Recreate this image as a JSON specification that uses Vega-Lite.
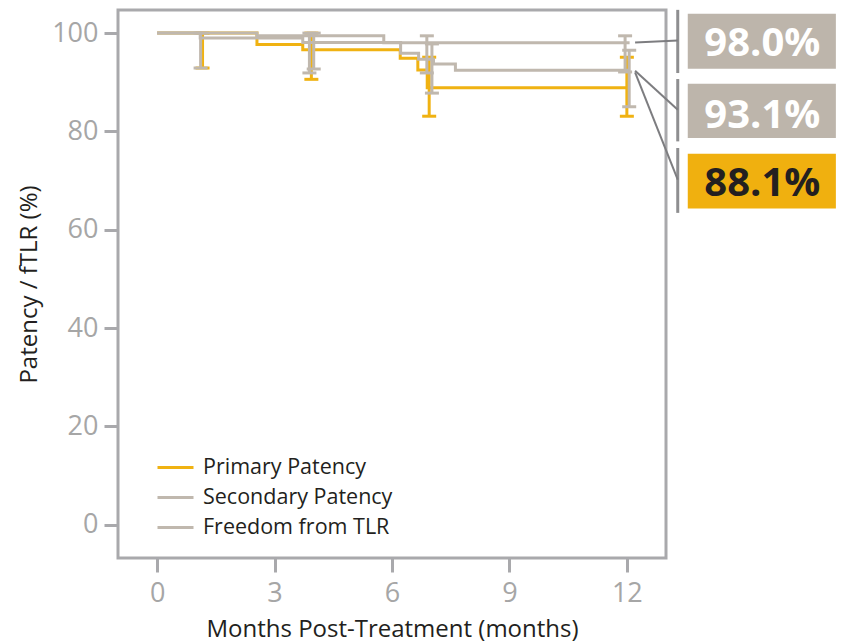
{
  "$schema": "https://vega.github.io/schema/vega-lite/v6.json",
  "width": 548,
  "height": 548,
  "autosize": "none",
  "padding": {"left": 118, "top": 10, "right": 176, "bottom": 84},
  "background": "white",
  "config": {
    "view": {"stroke": "#A9A9AC", "strokeWidth": 3},
    "font": "Open Sans",
    "axis": {
      "grid": false,
      "domain": false,
      "tickColor": "#A9A9AC",
      "tickWidth": 3,
      "tickSize": 14,
      "labelColor": "#A6A6A6",
      "labelFontSize": 27,
      "labelFont": "Open Sans",
      "titleFont": "Open Sans",
      "titleFontSize": 24,
      "titleFontWeight": "normal",
      "titleColor": "#231F20"
    }
  },
  "datasets": {
    "curves": [
      {"series": "Primary Patency", "month": 0, "pct": 100},
      {"series": "Primary Patency", "month": 2.55, "pct": 97.7},
      {"series": "Primary Patency", "month": 3.72, "pct": 96.6},
      {"series": "Primary Patency", "month": 6.21, "pct": 94.9},
      {"series": "Primary Patency", "month": 6.66, "pct": 92.5},
      {"series": "Primary Patency", "month": 6.9, "pct": 88.9},
      {"series": "Primary Patency", "month": 12.05, "pct": 88.9},
      {"series": "Secondary Patency", "month": 0, "pct": 100},
      {"series": "Secondary Patency", "month": 2.55, "pct": 99.45},
      {"series": "Secondary Patency", "month": 5.79, "pct": 98.05},
      {"series": "Secondary Patency", "month": 12.07, "pct": 98.05},
      {"series": "Freedom from TLR", "month": 0, "pct": 100},
      {"series": "Freedom from TLR", "month": 1.1, "pct": 99.0},
      {"series": "Freedom from TLR", "month": 3.72, "pct": 98.1},
      {"series": "Freedom from TLR", "month": 6.22, "pct": 95.9},
      {"series": "Freedom from TLR", "month": 6.68, "pct": 94.7},
      {"series": "Freedom from TLR", "month": 7.06, "pct": 93.7},
      {"series": "Freedom from TLR", "month": 7.62, "pct": 92.45},
      {"series": "Freedom from TLR", "month": 12.08, "pct": 92.45}
    ],
    "ci": [
      {"series": "Primary Patency", "month": 1.16, "lo": 92.9, "hi": 100},
      {"series": "Primary Patency", "month": 3.94, "lo": 90.6, "hi": 100},
      {"series": "Primary Patency", "month": 6.95, "lo": 83.1, "hi": 95.1},
      {"series": "Primary Patency", "month": 12.0, "lo": 83.1, "hi": 95.1},
      {"series": "Secondary Patency", "month": 3.89, "lo": 91.9, "hi": 100},
      {"series": "Secondary Patency", "month": 6.89, "lo": 91.9, "hi": 99.45},
      {"series": "Secondary Patency", "month": 11.955, "lo": 92.1, "hi": 99.45},
      {"series": "Freedom from TLR", "month": 1.11, "lo": 92.9, "hi": 100},
      {"series": "Freedom from TLR", "month": 4.0, "lo": 92.7, "hi": 100},
      {"series": "Freedom from TLR", "month": 7.02, "lo": 87.8, "hi": 97.8},
      {"series": "Freedom from TLR", "month": 12.06, "lo": 85.0, "hi": 96.5}
    ],
    "labels": [
      {"series": "Secondary Patency", "text": "98.0%", "x1": 13.556, "x2": 17.34, "y1": 92.75, "y2": 103.92, "tx": 15.46, "ty": 95.25},
      {"series": "Freedom from TLR", "text": "93.1%", "x1": 13.556, "x2": 17.34, "y1": 78.68, "y2": 89.7, "tx": 15.46, "ty": 80.71},
      {"series": "Primary Patency", "text": "88.1%", "x1": 13.556, "x2": 17.34, "y1": 64.32, "y2": 75.49, "tx": 15.46, "ty": 66.82}
    ],
    "separators": [
      {"m": 13.3, "a": 91.88, "b": 104.73},
      {"m": 13.3, "a": 77.98, "b": 90.66},
      {"m": 13.3, "a": 63.44, "b": 76.64}
    ],
    "pointers": [
      {"m1": 12.21, "v1": 98.1, "m2": 13.3, "v2": 98.5},
      {"m1": 12.21, "v1": 92.35, "m2": 13.3, "v2": 84.4},
      {"m1": 12.21, "v1": 92.0, "m2": 13.3, "v2": 70.2}
    ]
  },
  "layer": [
    {
      "data": {"name": "curves"},
      "transform": [{"filter": "datum.series === 'Primary Patency'"}],
      "mark": {"type": "line", "interpolate": "step-after", "strokeWidth": 3},
      "encoding": {
        "x": {
          "field": "month", "type": "quantitative",
          "scale": {"domain": [-1, 13], "nice": false, "zero": false},
          "axis": {"values": [0, 3, 6, 9, 12], "title": "Months Post-Treatment (months)", "labelPadding": 8, "titleY": 78, "titleBaseline": "alphabetic"}
        },
        "y": {
          "field": "pct", "type": "quantitative",
          "scale": {"domain": [-6.75, 104.7], "nice": false, "zero": false},
          "axis": {"values": [0, 20, 40, 60, 80, 100], "title": "Patency / fTLR (%)", "labelPadding": 6, "titleX": -77, "titleY": 274}
        },
        "color": {
          "field": "series", "type": "nominal",
          "scale": {"domain": ["Primary Patency", "Secondary Patency", "Freedom from TLR"], "range": ["#F0B212", "#C0B8AE", "#C0B8AE"]},
          "legend": {
            "title": null,
            "orient": "none",
            "legendX": 38,
            "legendY": 438,
            "padding": 0,
            "symbolType": "stroke",
            "symbolSize": 1296,
            "symbolStrokeWidth": 3,
            "labelFontSize": 21.5,
            "labelColor": "#231F20",
            "labelFont": "Open Sans",
            "labelOffset": 8,
            "labelLimit": 0,
            "rowPadding": -11.5
          }
        }
      }
    },
    {
      "data": {"name": "ci"},
      "transform": [{"filter": "datum.series === 'Primary Patency'"}],
      "mark": {"type": "rule", "strokeWidth": 3},
      "encoding": {
        "x": {"field": "month", "type": "quantitative"},
        "y": {"field": "lo", "type": "quantitative"},
        "y2": {"field": "hi"},
        "color": {"field": "series", "type": "nominal"}
      }
    },
    {
      "data": {"name": "ci"},
      "transform": [{"filter": "datum.series === 'Primary Patency'"}, {"fold": ["lo", "hi"], "as": ["end", "bound"]}],
      "mark": {"type": "tick", "orient": "horizontal", "size": 14, "thickness": 3, "opacity": 1},
      "encoding": {
        "x": {"field": "month", "type": "quantitative"},
        "y": {"field": "bound", "type": "quantitative"},
        "color": {"field": "series", "type": "nominal"}
      }
    },
    {
      "data": {"name": "curves"},
      "transform": [{"filter": "datum.series !== 'Primary Patency'"}],
      "mark": {"type": "line", "interpolate": "step-after", "strokeWidth": 3},
      "encoding": {
        "x": {"field": "month", "type": "quantitative"},
        "y": {"field": "pct", "type": "quantitative"},
        "color": {"field": "series", "type": "nominal"},
        "detail": {"field": "series"}
      }
    },
    {
      "data": {"name": "ci"},
      "transform": [{"filter": "datum.series !== 'Primary Patency'"}],
      "mark": {"type": "rule", "strokeWidth": 3},
      "encoding": {
        "x": {"field": "month", "type": "quantitative"},
        "y": {"field": "lo", "type": "quantitative"},
        "y2": {"field": "hi"},
        "color": {"field": "series", "type": "nominal"}
      }
    },
    {
      "data": {"name": "ci"},
      "transform": [{"filter": "datum.series !== 'Primary Patency'"}, {"fold": ["lo", "hi"], "as": ["end", "bound"]}],
      "mark": {"type": "tick", "orient": "horizontal", "size": 14, "thickness": 3, "opacity": 1},
      "encoding": {
        "x": {"field": "month", "type": "quantitative"},
        "y": {"field": "bound", "type": "quantitative"},
        "color": {"field": "series", "type": "nominal"}
      }
    },
    {
      "data": {"name": "separators"},
      "mark": {"type": "rule", "strokeWidth": 3, "color": "#8E8E90", "clip": false},
      "encoding": {
        "x": {"field": "m", "type": "quantitative"},
        "y": {"field": "a", "type": "quantitative"},
        "y2": {"field": "b"}
      }
    },
    {
      "data": {"name": "pointers"},
      "mark": {"type": "rule", "strokeWidth": 2, "color": "#7D7D80", "clip": false},
      "encoding": {
        "x": {"field": "m1", "type": "quantitative"},
        "y": {"field": "v1", "type": "quantitative"},
        "x2": {"field": "m2"},
        "y2": {"field": "v2"}
      }
    },
    {
      "data": {"name": "labels"},
      "mark": {"type": "rect", "clip": false},
      "encoding": {
        "x": {"field": "x1", "type": "quantitative"},
        "x2": {"field": "x2"},
        "y": {"field": "y1", "type": "quantitative"},
        "y2": {"field": "y2"},
        "fill": {
          "field": "series", "type": "nominal",
          "scale": {"domain": ["Primary Patency", "Secondary Patency", "Freedom from TLR"], "range": ["#F0B00F", "#BDB5AB", "#BDB5AB"]},
          "legend": null
        }
      }
    },
    {
      "data": {"name": "labels"},
      "mark": {"type": "text", "clip": false, "fontSize": 40, "fontWeight": "bold", "font": "Open Sans", "align": "center", "baseline": "alphabetic"},
      "encoding": {
        "x": {"field": "tx", "type": "quantitative"},
        "y": {"field": "ty", "type": "quantitative"},
        "text": {"field": "text"},
        "color": {"condition": {"test": "datum.series === 'Primary Patency'", "value": "#231F20"}, "value": "#FFFFFF"}
      }
    }
  ]
}
